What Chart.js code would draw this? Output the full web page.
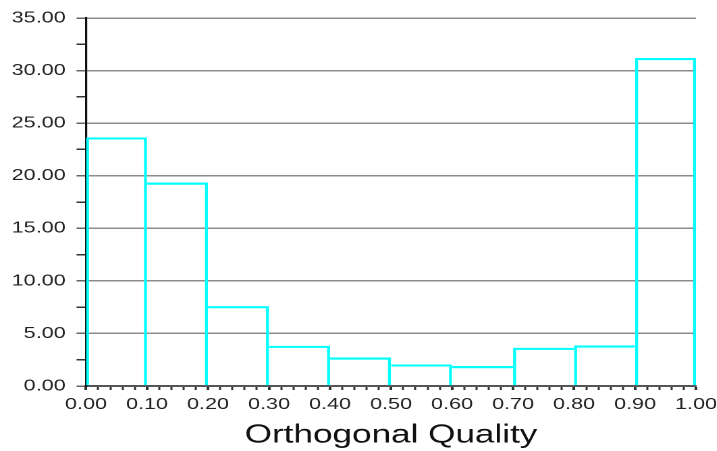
<!DOCTYPE html>
<html>
<head>
<meta charset="utf-8">
<script src="https://cdn.jsdelivr.net/npm/chart.js@4.4.1/dist/chart.umd.min.js"></script>
<style>
  html, body { margin: 0; padding: 0; background: #fff; overflow: hidden; }
  /* the original picture is stretched sideways, so we draw narrow and stretch */
  #wrap { width: 531px; height: 451px; transform: scaleX(1.35); transform-origin: 0 0; }
</style>
</head>
<body>
<div id="wrap"><canvas id="chart" width="531" height="451"></canvas></div>
<script>
// histogram of orthogonal quality (percent of cells per bin)
const binCenters = [0.05, 0.15, 0.25, 0.35, 0.45, 0.55, 0.65, 0.75, 0.85, 0.95];
const percents   = [23.65, 19.35, 7.6, 3.83, 2.72, 2.06, 1.9, 3.64, 3.86, 31.2];
const binWidth = 0.1;
const xTickStep = 0.02, xLabelEvery = 0.1;
const yTickStep = 2.5, yLabelEvery = 5, yMax = 35;

const FONT = "'Liberation Sans', Arial, sans-serif";
const CYAN = "#00ffff";

const isMajor = (v, every) => Math.abs(v / every - Math.round(v / every)) < 1e-6;

// only draw the side of a bar that is the taller one at a shared edge
function barBorder(ctx) {
  const i = ctx.dataIndex;
  const y = percents[i];
  const prev = i > 0 ? percents[i - 1] : -1;
  const next = i < percents.length - 1 ? percents[i + 1] : -1;
  return {
    top: 2.2,
    bottom: 0,
    left: y > prev ? 2.2 : 0,
    right: y >= next ? 2.2 : 0,
  };
}

new Chart(document.getElementById("chart"), {
  type: "bar",
  data: {
    datasets: [{
      data: binCenters.map((x, i) => ({ x, y: percents[i] })),
      backgroundColor: "rgba(0,0,0,0)",
      borderColor: CYAN,
      borderWidth: barBorder,
      borderSkipped: false,
      // bar ruler takes the tick spacing (0.02), so widen to a full bin
      barPercentage: binWidth / xTickStep,
      categoryPercentage: 1,
    }],
  },
  options: {
    responsive: false,
    devicePixelRatio: 2,
    animation: false,
    layout: { padding: { left: 0, right: 15.4, top: 18, bottom: 0 } },
    plugins: { legend: { display: false }, tooltip: { enabled: false } },
    scales: {
      x: {
        type: "linear",
        min: 0,
        max: 1,
        offset: false,
        afterFit: (s) => { s.height = 65; s.paddingRight = 0; s.paddingLeft = 0; },
        ticks: {
          stepSize: xTickStep,
          autoSkip: false,
          maxRotation: 0,
          minRotation: 0,
          padding: 5,
          color: "#222",
          font: { family: FONT, size: 16 },
          callback: (v) => isMajor(v, xLabelEvery) ? Number(v).toFixed(2) : "",
        },
        grid: {
          offset: false,
          drawOnChartArea: false,
          tickLength: 4,
          tickColor: "#333",
          tickWidth: (c) => isMajor(c.tick.value, xLabelEvery) ? 2 : 1.5,
        },
        border: { color: "#555", width: 2 },
        title: {
          display: true,
          text: "Orthogonal Quality",
          color: "#111",
          font: { family: FONT, size: 26 },
          padding: { top: 0, bottom: 0 },
        },
      },
      y: {
        min: 0,
        max: yMax,
        afterFit: (s) => { s.width = 63.7; },
        ticks: {
          stepSize: yTickStep,
          padding: 8,
          color: "#222",
          font: { family: FONT, size: 16 },
          callback: (v) => isMajor(v, yLabelEvery) ? Number(v).toFixed(2) : "",
        },
        grid: {
          color: (c) => isMajor(c.tick.value, yLabelEvery) ? "#8c8c8c" : "rgba(0,0,0,0)",
          lineWidth: 1.5,
          tickLength: 7,
          tickColor: (c) => isMajor(c.tick.value, yLabelEvery) ? "#666" : "#333",
          tickWidth: 1.5,
        },
        border: { color: "#111", width: 1.6 },
      },
    },
  },
});
</script>
</body>
</html>
